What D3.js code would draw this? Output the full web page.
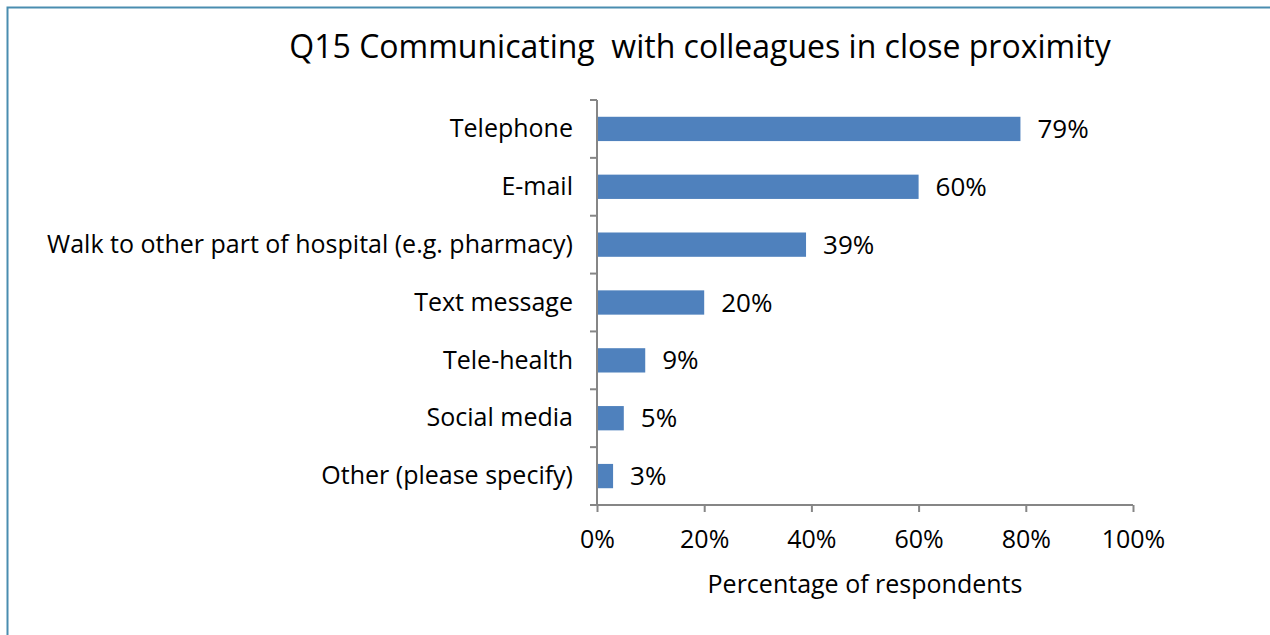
<!DOCTYPE html>
<html>
<head>
<meta charset="utf-8">
<script src="https://cdn.jsdelivr.net/npm/d3@7"></script>
<style>
  html, body { margin: 0; padding: 0; background: #fff; }
  svg { display: block; }
  text { font-family: "Open Sans", "Noto Sans", sans-serif; fill: #000; }
</style>
</head>
<body>
<svg id="chart" width="1270" height="635"></svg>
<script>
const categories = [
  "Telephone",
  "E-mail",
  "Walk to other part of hospital (e.g. pharmacy)",
  "Text message",
  "Tele-health",
  "Social media",
  "Other (please specify)"
];
const percentages = [79, 60, 39, 20, 9, 5, 3];
const xTicks = [0, 20, 40, 60, 80, 100];
const titleText = "Q15 Communicating  with colleagues in close proximity";
const xAxisTitle = "Percentage of respondents";

const svg = d3.select("#chart");
const W = 1270, H = 635;
const plot = { left: 597, right: 1133, top: 100, bottom: 505 };
const axisColor = "#868686";

// outer frame (right/bottom edges run past the canvas)
svg.append("rect")
  .attr("x", 7.5).attr("y", 7.5)
  .attr("width", W + 20).attr("height", H + 20)
  .attr("fill", "none")
  .attr("stroke", "#4a8db0")
  .attr("stroke-width", 2);

const x = d3.scaleLinear().domain([0, 100]).range([plot.left, plot.right]);
const y = d3.scaleBand().domain(categories).range([plot.top, plot.bottom]).paddingInner(0.58).paddingOuter(0.29);
const yOuter = d3.scaleBand().domain(categories).range([plot.top, plot.bottom]);

// title
svg.append("text")
  .attr("x", 700).attr("y", 58)
  .attr("text-anchor", "middle")
  .style("font-size", "32px")
  .attr("xml:space", "preserve")
  .text(titleText);

// bars
svg.append("g").selectAll("rect")
  .data(categories)
  .join("rect")
  .attr("x", x(0))
  .attr("y", d => y(d))
  .attr("width", (d, i) => x(percentages[i]) - x(0))
  .attr("height", y.bandwidth())
  .attr("fill", "#4f81bd");

// value labels
svg.append("g").selectAll("text")
  .data(categories)
  .join("text")
  .attr("x", (d, i) => x(percentages[i]) + 17)
  .attr("y", d => y(d) + y.bandwidth() / 2)
  .attr("dy", "0.35em")
  .style("font-size", "26px")
  .text((d, i) => percentages[i] + "%");

// y axis
const yAxisG = svg.append("g");
yAxisG.append("line")
  .attr("x1", plot.left).attr("x2", plot.left)
  .attr("y1", plot.top).attr("y2", plot.bottom)
  .attr("stroke", axisColor).attr("stroke-width", 2);
const yTickPos = categories.map(c => yOuter(c)).concat([plot.bottom]);
yAxisG.selectAll("line.tick")
  .data(yTickPos)
  .join("line")
  .attr("class", "tick")
  .attr("x1", plot.left - 7).attr("x2", plot.left)
  .attr("y1", d => d).attr("y2", d => d)
  .attr("stroke", axisColor).attr("stroke-width", 2);
yAxisG.selectAll("text")
  .data(categories)
  .join("text")
  .attr("x", plot.left - 24)
  .attr("y", d => yOuter(d) + yOuter.bandwidth() / 2)
  .attr("dy", "0.33em")
  .attr("text-anchor", "end")
  .style("font-size", "25px")
  .text(d => d);

// x axis
const xAxis = d3.axisBottom(x)
  .tickValues(xTicks)
  .tickFormat(d => d + "%")
  .tickSize(7);
const xAxisG = svg.append("g")
  .attr("transform", `translate(0,${plot.bottom})`)
  .call(xAxis);
xAxisG.select(".domain").attr("stroke", axisColor).attr("stroke-width", 2)
  .attr("d", `M${plot.left - 7},0H${plot.right}`);
xAxisG.selectAll(".tick line").attr("stroke", axisColor).attr("stroke-width", 2);
xAxisG.selectAll(".tick text")
  .attr("fill", "#000")
  .attr("y", 43)
  .attr("dy", 0)
  .style("font-family", "\"Open Sans\", sans-serif")
  .style("font-size", "25px");

// x axis title
svg.append("text")
  .attr("x", (plot.left + plot.right) / 2).attr("y", 593)
  .attr("text-anchor", "middle")
  .style("font-size", "25px")
  .text(xAxisTitle);
</script>
</body>
</html>
